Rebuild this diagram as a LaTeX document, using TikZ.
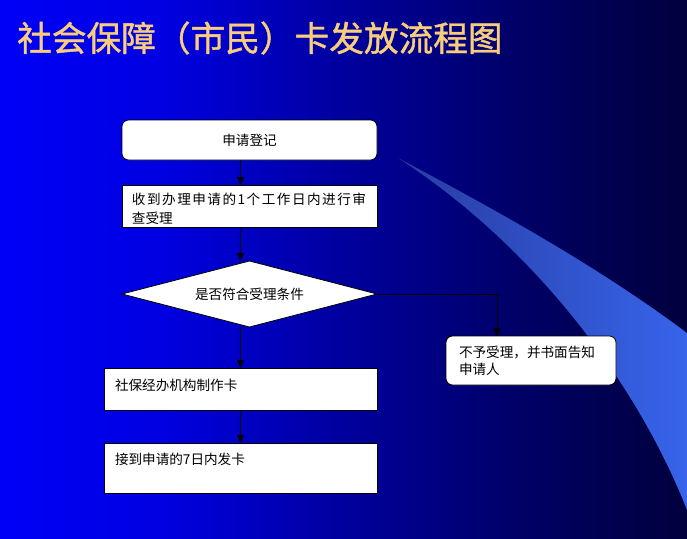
\documentclass[tikz,border=0pt]{standalone}
\usepackage{fontspec}
\setmainfont{Noto Sans CJK SC}
\newfontfamily\widecjk[LetterSpace=11]{Noto Sans CJK SC}
\newfontfamily\titlecjk[FakeBold=1.2]{Noto Sans CJK SC}
\usepackage{tikz}
\usetikzlibrary{positioning, shapes, arrows.meta, calc}

\definecolor{titleyellow}{RGB}{250,205,125}
\definecolor{swooshdark}{RGB}{40,60,160}
\definecolor{swooshlight}{RGB}{55,100,235}
\pgfdeclarehorizontalshading{bgshade}{100bp}{rgb(0bp)=(0,0,0.97); rgb(25bp)=(0,0,0.97); rgb(37bp)=(0,0,0.88); rgb(50bp)=(0,0,0.62); rgb(63bp)=(0,0,0.4); rgb(75bp)=(0,0,0.24); rgb(100bp)=(0,0,0.24)}

\begin{document}
\begin{tikzpicture}[
x=0.75pt, y=-0.75pt,
titletext/.style={
  inner sep=0pt,
  font=\titlecjk\fontsize{26pt}{30pt}\selectfont
},
procbox/.style={rectangle,
  draw=black,
  fill=white,
  line width=0.6pt,
  inner sep=0pt,
  outer sep=0pt,
  font=\fontsize{10.2pt}{14.25pt}\selectfont
},
roundbox/.style={procbox,
  rounded corners=5pt
},
decision/.style={diamond,
  draw=black,
  fill=white,
  line width=0.6pt,
  inner sep=0pt,
  outer sep=0pt,
  aspect=3.86,
  minimum width=191.25pt,
  minimum height=49.5pt,
  font=\fontsize{10.2pt}{14pt}\selectfont
},
flow/.style={->, draw=black, line width=0.6pt},
>={Triangle[width=5.25pt,length=6pt]}
]

% background and swoosh
\useasboundingbox (0,0) rectangle (687,539);
\shade[shading=bgshade] (0,0) rectangle (687,539);
\shade[left color=swooshdark, right color=swooshlight]
  (398,158) .. controls (500,212) and (600,268) .. (687,333)
  -- (687,510) .. controls (640,390) and (540,250) .. cycle;

% title
\node[titletext, text=titleyellow, anchor=west] (title) at (17,38)
    {社会保障（市民）卡发放流程图};

% flow chart
\node[roundbox, minimum width=191.25pt, minimum height=30pt, anchor=north west] (apply) at (122,120)
    {申请登记};
\node[procbox, below=18.75pt of apply, text width=176.25pt, inner xsep=7.5pt, align=left, text height=14.25pt, text depth=17.25pt] (check)
    {{\widecjk 收到办理申请的1个工作日内进行审}\\查受理};
\node[decision, below=25.5pt of check] (dec)
    {是否符合受理条件};
\node[procbox, text width=188.25pt, inner xsep=8.25pt, align=left, text height=16.5pt, text depth=15pt, anchor=north west] (make) at (104,368)
    {社保经办机构制作卡};
\node[procbox, below=24.75pt of make, text width=188.25pt, inner xsep=8.25pt, align=left, text height=15.75pt, text depth=21.75pt] (issue)
    {接到申请的7日内发卡};
\node[roundbox, text width=108pt, inner xsep=9.75pt, minimum height=36.75pt, align=left, anchor=north west,
  font=\fontsize{10.2pt}{12.75pt}\selectfont] (rej) at (446,336)
    {不予受理，并书面告知\\申请人};
\coordinate (rejtop) at ($(rej.north west)!0.3!(rej.north east)$);

\draw[flow] (apply.south -| make.north) -- (check.north -| make.north);
\draw[flow] (check.south -| make.north) -- (dec.north -| make.north);
\draw[flow] (dec.south -| make.north) -- (make.north);
\draw[flow] (make) -- (issue);
\draw[flow] (dec.east) -- (dec.east -| rejtop) -- (rejtop);
\end{tikzpicture}
\end{document}
